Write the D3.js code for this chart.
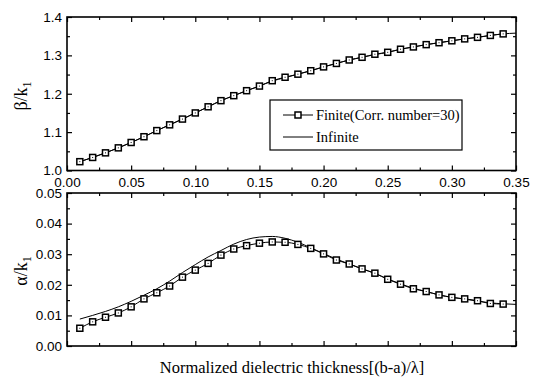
<!DOCTYPE html>
<html>
<head>
<meta charset="utf-8">
<script src="https://cdn.jsdelivr.net/npm/d3@7"></script>
<style>
  body { margin: 0; background: #fff; }
  text { fill: #000; }
</style>
</head>
<body>
<script>
// values
var xFinite = [0.01,0.02,0.03,0.04,0.05,0.06,0.07,0.08,0.09,0.10,0.11,0.12,0.13,0.14,0.15,0.16,0.17,
               0.18,0.19,0.20,0.21,0.22,0.23,0.24,0.25,0.26,0.27,0.28,0.29,0.30,0.31,0.32,0.33,0.34];
var betaFinite = [1.023,1.034,1.046,1.059,1.073,1.088,1.104,1.119,1.134,1.150,1.166,1.182,1.195,1.208,1.220,1.234,1.243,
                  1.251,1.260,1.270,1.279,1.288,1.295,1.303,1.308,1.316,1.322,1.328,1.333,1.338,1.343,1.347,1.352,1.356];
var alphaFinite = [0.0058,0.0079,0.0094,0.0108,0.0128,0.0154,0.0174,0.0196,0.0225,0.0248,0.0270,0.0297,0.0317,0.0328,0.0336,0.0340,0.0339,
                   0.0332,0.0319,0.0301,0.0281,0.0268,0.0252,0.0238,0.0218,0.0202,0.0187,0.0178,0.0167,0.0159,0.0154,0.0148,0.0139,0.0137];

var xInfinite = [0.01,0.02,0.03,0.04,0.05,0.06,0.07,0.08,0.09,0.10,0.11,0.12,0.13,0.14,0.15,0.16,0.17,0.18,
                 0.19,0.20,0.21,0.22,0.23,0.24,0.25,0.26,0.27,0.28,0.29,0.30,0.31,0.32,0.33,0.34,0.35];
var betaInfinite = [1.023,1.034,1.046,1.059,1.073,1.088,1.104,1.119,1.134,1.150,1.166,1.182,1.195,1.208,1.220,1.233,1.242,1.251,
                    1.260,1.270,1.279,1.288,1.295,1.302,1.308,1.316,1.322,1.328,1.333,1.338,1.343,1.347,1.352,1.356,1.358];
var alphaInfinite = [0.0088,0.0100,0.0113,0.0128,0.0146,0.0166,0.0187,0.0212,0.0240,0.0266,0.0291,0.0312,0.0333,0.0348,0.0356,0.0358,0.0352,0.0339,
                     0.0321,0.0302,0.0284,0.0268,0.0252,0.0237,0.0219,0.0203,0.0189,0.0178,0.0167,0.0159,0.0153,0.0147,0.0141,0.0138,0.0136];

var xMajor = [0,0.05,0.10,0.15,0.20,0.25,0.30,0.35];
var xMinor = [0.025,0.075,0.125,0.175,0.225,0.275,0.325];
var betaMajor = [1.0,1.1,1.2,1.3,1.4];
var betaMinor = [1.05,1.15,1.25,1.35];
var alphaMajor = [0,0.01,0.02,0.03,0.04,0.05];
var alphaMinor = [0.005,0.015,0.025,0.035,0.045];

var legendLabels = ['Finite(Corr. number=30)', 'Infinite'];

var W = 539, H = 382;
var left = 67, right = 516;
var serif = '"Liberation Serif", "Times New Roman", serif';
var sans = '"Liberation Sans", Arial, sans-serif';

var svg = d3.select('body').append('svg')
    .attr('width', W)
    .attr('height', H);

var x = d3.scaleLinear().domain([0, 0.35]).range([left, right]);

function panel(top, bottom, yDomain, yMajor, yMinor, fmt, xLabels) {
    var y = d3.scaleLinear().domain(yDomain).range([bottom, top]);
    var g = svg.append('g');

    // inward ticks on all four sides
    function ax(gen, ticks, size, tr, labels) {
        var a = gen.tickValues(ticks).tickSize(-size).tickPadding(5);
        if (!labels) a.tickFormat('');
        var s = g.append('g').attr('transform', tr).call(a);
        s.select('.domain').remove();
        s.selectAll('line').attr('stroke', '#000').attr('stroke-width', 1.2);
        s.selectAll('text')
            .attr('font-family', sans)
            .attr('font-size', 13.5);
        return s;
    }
    var bx = ax(d3.axisBottom(x), xMajor, 5, 'translate(0,' + bottom + ')', xLabels);
    if (xLabels) bx.selectAll('text').attr('dy', '0.85em').text(function(d) { return d3.format('.2f')(d); });
    ax(d3.axisBottom(x), xMinor, 3, 'translate(0,' + bottom + ')', false);
    ax(d3.axisTop(x), xMajor, 5, 'translate(0,' + top + ')', false);
    ax(d3.axisTop(x), xMinor, 3, 'translate(0,' + top + ')', false);
    var ly = ax(d3.axisLeft(y), yMajor, 5, 'translate(' + left + ',0)', true);
    ly.selectAll('text').text(function(d) { return d3.format(fmt)(d); });
    ax(d3.axisLeft(y), yMinor, 3, 'translate(' + left + ',0)', false);
    ax(d3.axisRight(y), yMajor, 5, 'translate(' + right + ',0)', false);
    ax(d3.axisRight(y), yMinor, 3, 'translate(' + right + ',0)', false);

    g.append('rect')
        .attr('x', left).attr('y', top)
        .attr('width', right - left).attr('height', bottom - top)
        .attr('fill', 'none').attr('stroke', '#000').attr('stroke-width', 1.6);
    return {g: g, y: y};
}

function drawSeries(p, xs, ys, xi, yi) {
    var line = d3.line().x(function(d) { return x(d[0]); }).y(function(d) { return p.y(d[1]); })
        .curve(d3.curveMonotoneX);
    p.g.append('path')
        .datum(d3.zip(xi, yi))
        .attr('d', line)
        .attr('fill', 'none').attr('stroke', '#000').attr('stroke-width', 1);
    p.g.append('path')
        .datum(d3.zip(xs, ys))
        .attr('d', line)
        .attr('fill', 'none').attr('stroke', '#000').attr('stroke-width', 1);
    var m = p.g.selectAll('.mk').data(d3.zip(xs, ys)).enter().append('g')
        .attr('transform', function(d) { return 'translate(' + x(d[0]) + ',' + p.y(d[1]) + ')'; });
    m.append('rect').attr('x', -3).attr('y', -3).attr('width', 6).attr('height', 6)
        .attr('fill', '#fff').attr('stroke', '#000').attr('stroke-width', 1.5);
    m.append('rect').attr('x', -0.5).attr('y', -0.5).attr('width', 1).attr('height', 1).attr('fill', '#000');
}

var pTop = panel(17, 170.5, [1.0, 1.4], betaMajor, betaMinor, '.1f', true);
var pBot = panel(193, 346, [0, 0.05], alphaMajor, alphaMinor, '.2f', false);

drawSeries(pTop, xFinite, betaFinite, xInfinite, betaInfinite);
drawSeries(pBot, xFinite, alphaFinite, xInfinite, alphaInfinite);

// legend
var lg = svg.append('g');
lg.append('rect').attr('x', 270).attr('y', 100).attr('width', 192).attr('height', 50)
    .attr('fill', '#fff').attr('stroke', '#000').attr('stroke-width', 1.2);
lg.append('line').attr('x1', 283).attr('x2', 313).attr('y1', 115).attr('y2', 115)
    .attr('stroke', '#000').attr('stroke-width', 1);
lg.append('rect').attr('x', 295).attr('y', 112).attr('width', 6).attr('height', 6)
    .attr('fill', '#fff').attr('stroke', '#000').attr('stroke-width', 1.5);
lg.append('line').attr('x1', 283).attr('x2', 313).attr('y1', 137).attr('y2', 137)
    .attr('stroke', '#000').attr('stroke-width', 1);
lg.selectAll('.lt').data(legendLabels).enter().append('text')
    .attr('x', 316)
    .attr('y', function(d, i) { return 115 + i * 22; })
    .attr('dy', '0.35em')
    .attr('font-family', serif)
    .attr('font-size', 14.5)
    .text(function(d) { return d; });

// axis titles
function yTitle(cx, cy, sym) {
    var t = svg.append('text')
        .attr('transform', 'translate(' + cx + ',' + cy + ') rotate(-90)')
        .attr('text-anchor', 'middle')
        .attr('font-family', serif)
        .attr('font-size', 18);
    t.append('tspan').text(sym + '/k');
    t.append('tspan').attr('dy', 4).attr('font-size', 12).text('1');
}
yTitle(27, 96, 'β');
yTitle(27, 271, 'α');

svg.append('text')
    .attr('x', 292).attr('y', 373)
    .attr('text-anchor', 'middle')
    .attr('font-family', serif)
    .attr('font-size', 16.5)
    .text('Normalized dielectric thickness[(b-a)/λ]');
</script>
</body>
</html>
